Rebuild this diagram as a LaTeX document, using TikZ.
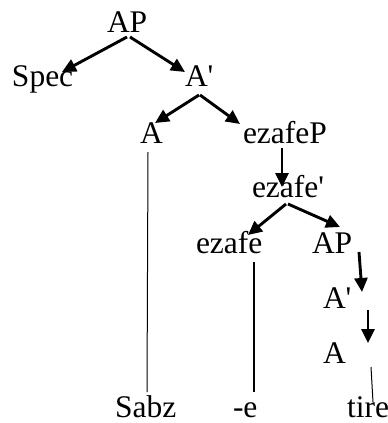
\documentclass[tikz,border=0pt]{standalone}
\usepackage{fontspec}
\setmainfont{Liberation Serif}[Ligatures=TeXOff]
\usetikzlibrary{arrows.meta}
\begin{document}
\begin{tikzpicture}[x=1pt,y=-1pt,
  lbl/.style={anchor=base west,inner sep=0pt,outer sep=0pt,font=\fontsize{31.5}{32}\selectfont},
  arr/.style={line width=2.9pt,-{Triangle[length=14pt,width=13pt]}},
  thin line/.style={line width=1pt},
  mid line/.style={line width=1.8pt}]
\useasboundingbox[fill=white] (0,0) rectangle (388,423);
\node[lbl] (AP1) at (107,32) {AP};
\node[lbl] (Spec) at (12,86) {Spec};
\node[lbl] (Ab1) at (185,86) {A'};
\node[lbl] (A1) at (140,143) {A};
\node[lbl] (ezP) at (243,143) {ezafeP};
\node[lbl] (ezb) at (252,197) {ezafe'};
\node[lbl] (ez) at (196,253) {ezafe};
\node[lbl] (AP2) at (312,253) {AP};
\node[lbl] (Ab2) at (323,308) {A'};
\node[lbl] (A2) at (323,363) {A};
\node[lbl] (Sabz) at (115,417) {Sabz};
\node[lbl] (e) at (233,417) {-e};
\node[lbl] (tire) at (347,417) {tire};
\draw[arr] ([shift={(20,5)}]AP1.base west) -- ([shift={(50,-14)}]Spec.base west);
\draw[arr] ([shift={(23,5)}]AP1.base west) -- ([shift={(0,-14)}]Ab1.base west);
\draw[arr] ([shift={(14,9)}]Ab1.base west) -- ([shift={(15,-20)}]A1.base west);
\draw[arr] ([shift={(15,9)}]Ab1.base west) -- ([shift={(-3,-19)}]ezP.base west);
\draw[arr] ([shift={(39,5)}]ezP.base west) -- ([shift={(30,-10)}]ezb.base west);
\draw[arr] ([shift={(34,7)}]ezb.base west) -- ([shift={(52,-18)}]ez.base west);
\draw[arr] ([shift={(36,7)}]ezb.base west) -- ([shift={(28,-26)}]AP2.base west);
\draw[arr] ([shift={(47,-1)}]AP2.base west) -- ([shift={(39,-16)}]Ab2.base west);
\draw[arr] ([shift={(45,2)}]Ab2.base west) -- ([shift={(45,-20)}]A2.base west);
\draw[thin line] ([shift={(8,9)}]A1.base west) -- ([shift={(32,-25)}]Sabz.base west);
\draw[mid line] ([shift={(58,9)}]ez.base west) -- ([shift={(21,-25)}]e.base west);
\draw[thin line] ([shift={(48,4)}]A2.base west) -- ([shift={(26,-15)}]tire.base west);
\end{tikzpicture}
\end{document}
